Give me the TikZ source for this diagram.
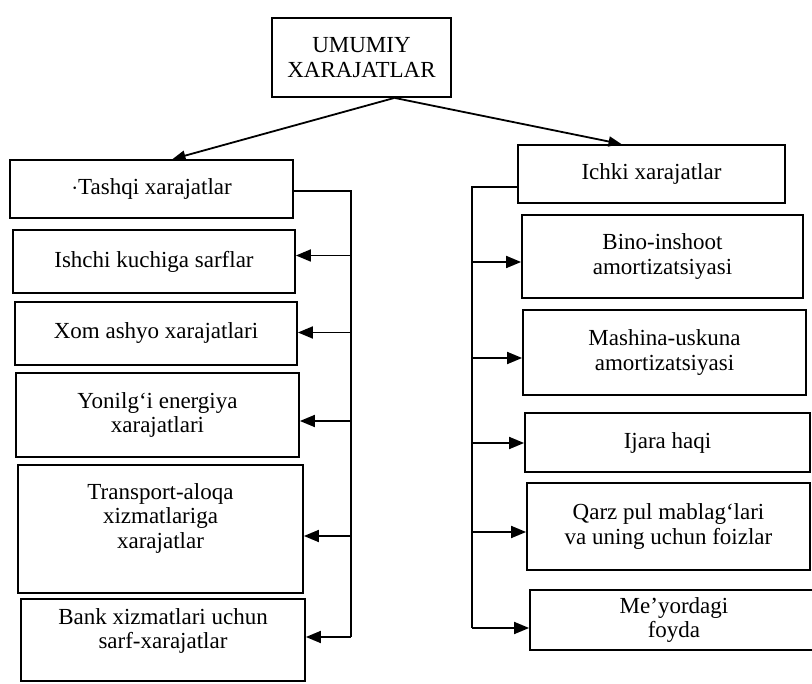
\documentclass[tikz,border=0pt]{standalone}
\usepackage{fontspec}
\setmainfont{Liberation Serif}
\usetikzlibrary{arrows.meta}
\begin{document}
\begin{tikzpicture}[x=1pt,y=-1pt,
  txt/.style={align=center,font=\fontsize{23}{24.5}\selectfont},
  box/.style={draw,line width=1.8pt,txt,inner sep=2pt},
  arr/.style={line width=1.8pt,-{Triangle[length=15pt,width=12pt]}},
  arrs/.style={line width=1.8pt,-{Triangle[length=13pt,width=10pt]}},
  ln/.style={line width=1.8pt}]
\useasboundingbox (0,0) rectangle (812,684);
% top
\node[box,minimum width=179pt,minimum height=79pt] (top) at (361.5,57.5) {UMUMIY\\XARAJATLAR};
% left column
\node[box,minimum width=283pt,minimum height=58pt] (tash) at (151.5,189) {$\cdot$Tashqi xarajatlar};
\node[box,minimum width=282pt,minimum height=63pt] (ish) at (154,261.5) {Ishchi kuchiga sarflar};
\node[box,minimum width=282pt,minimum height=63pt] (xom) at (156,333.5) {Xom ashyo xarajatlari};
\node[box,minimum width=283pt,minimum height=84pt] (yon) at (157.5,415) {Yonilg‘i energiya\\xarajatlari};
\node[box,minimum width=285pt,minimum height=128pt] (tra) at (160.5,529) {};
\node[txt] (tratext) at (160.5,518) {Transport-aloqa\\xizmatlariga\\xarajatlar};
\node[box,minimum width=284pt,minimum height=82pt] (bank) at (163,640) {};
\node[txt] (banktext) at (163,631) {Bank xizmatlari uchun\\sarf-xarajatlar};
% right column
\node[box,minimum width=267pt,minimum height=58pt] (ich) at (651.5,174) {Ichki xarajatlar};
\node[box,minimum width=281pt,minimum height=83pt] (bino) at (662.5,256.5) {Bino-inshoot\\amortizatsiyasi};
\node[box,minimum width=283pt,minimum height=85pt] (mash) at (664.5,352.5) {Mashina-uskuna\\amortizatsiyasi};
\node[box,minimum width=285pt,minimum height=59pt] (ijara) at (667.5,442.5) {Ijara haqi};
\node[box,minimum width=283pt,minimum height=87pt] (qarz) at (668.5,526.5) {Qarz pul mablag‘lari\\va uning uchun foizlar};
\node[box,minimum width=288pt,minimum height=60pt] (mey) at (674,620) {Me’yordagi\\foyda};
% top arrows
\coordinate (apex) at ([xshift=33pt]top.south);
\draw[arrs] (apex) -- ([xshift=21pt]tash.north);
\draw[arrs] (apex) -- ([xshift=-30pt]ich.north);
% left bus
\coordinate (lt) at ([xshift=57pt,yshift=-2pt]tash.east);
\coordinate (lb) at (lt |- bank.east);
\draw[ln] ([yshift=-2pt]tash.east) -- (lt) -- ([yshift=3pt]lb);
\foreach \n/\s in {ish/6,xom/1,yon/-6,tra/-7,bank/3}
  \draw[arr] ([yshift=\s pt]lt |- \n.east) -- ([yshift=\s pt]\n.east);
% right bus
\coordinate (rt) at ([xshift=-45pt,yshift=-13pt]ich.west);
\draw[ln] ([yshift=-13pt]ich.west) -- (rt) -- ([yshift=-8pt]rt |- mey.west);
\foreach \n/\s in {bino/-5.5,mash/-5.5,ijara/-0.5,qarz/-5.5,mey/-8}
  \draw[arr] ([yshift=\s pt]rt |- \n.west) -- ([yshift=\s pt]\n.west);
\end{tikzpicture}
\end{document}
